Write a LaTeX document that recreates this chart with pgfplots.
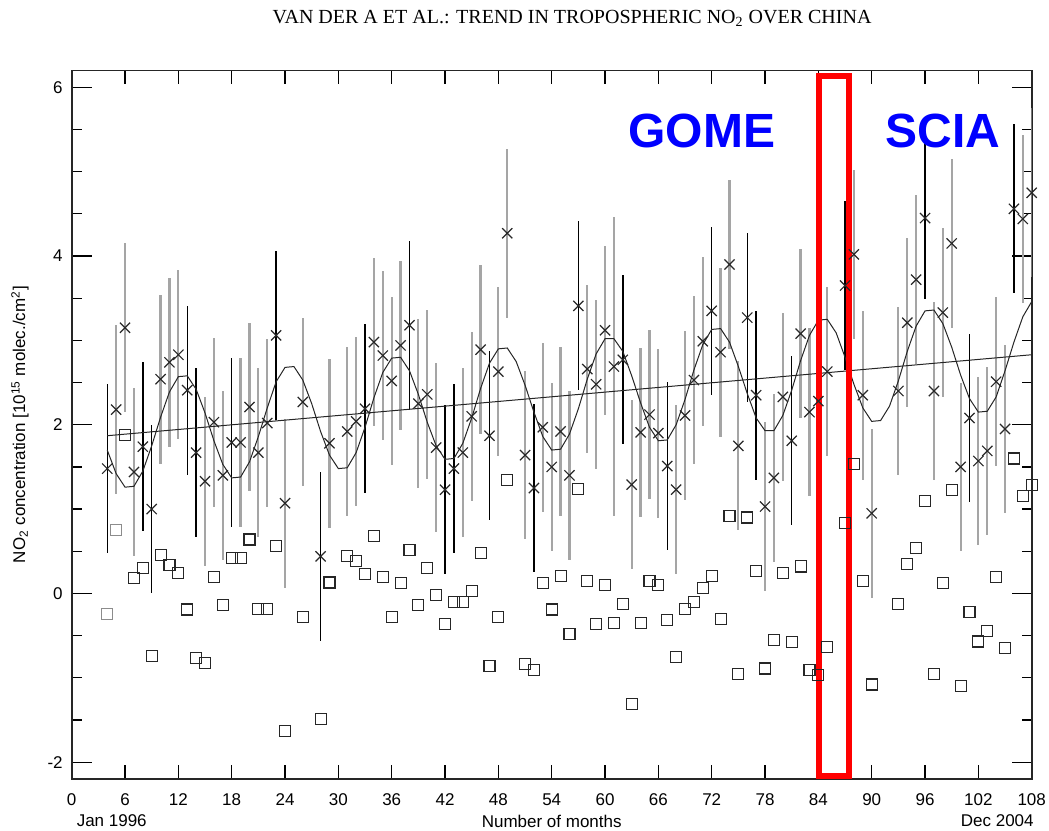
\documentclass[border=0pt]{standalone}
\usepackage{pgfplots}
\pgfplotsset{compat=1.18}
\usepackage{pgfplotstable}
\usepackage{fontspec}
\setmainfont{Liberation Serif}
\newfontfamily\lsans{Liberation Sans}
\definecolor{bargray}{RGB}{165,165,165}
\definecolor{markgray}{RGB}{40,40,40}
\definecolor{pureblue}{RGB}{0,0,255}
\definecolor{purered}{RGB}{255,0,0}

\pgfplotstableread{
m v e
4 1.48 1.0
8 1.74 1.0
9 1.00 1.0
13 2.41 1.0
14 1.67 1.0
18 1.79 1.0
23 3.06 1.0
28 0.44 1.0
33 2.19 1.0
38 3.18 1.0
42 1.23 1.0
43 1.48 1.0
47 1.87 1.0
52 1.25 1.0
57 3.41 1.0
62 2.77 1.0
67 1.51 1.0
72 3.35 1.0
76 3.27 1.0
77 2.35 1.0
81 1.81 1.0
87 3.65 1.0
96 4.45 0.96
101 2.08 1.0
106 4.56 1.0
}\blackbars

\pgfplotstableread{
m v e
5 2.18 1.0
6 3.15 1.0
7 1.44 1.0
10 2.54 1.0
11 2.74 1.0
12 2.83 1.0
15 1.33 1.0
16 2.03 1.0
17 1.40 1.0
19 1.79 1.0
20 2.21 1.0
21 1.67 1.0
22 2.02 1.0
24 1.07 1.0
26 2.27 1.0
29 1.78 1.0
31 1.92 1.0
32 2.04 1.0
34 2.98 1.0
35 2.82 1.0
36 2.52 1.0
37 2.94 1.0
39 2.25 1.0
40 2.36 1.0
41 1.73 1.0
44 1.67 1.0
45 2.10 1.0
46 2.89 1.0
48 2.63 1.0
49 4.27 1.0
51 1.64 1.0
53 1.97 1.0
54 1.50 1.0
55 1.92 1.0
56 1.40 1.0
58 2.66 1.0
59 2.48 1.0
60 3.12 1.0
61 2.69 1.77
63 1.29 1.0
64 1.91 1.0
65 2.12 1.0
66 1.90 1.0
68 1.23 1.0
69 2.11 1.0
70 2.53 1.0
71 2.99 1.0
73 2.86 1.0
74 3.90 1.0
75 1.75 1.0
78 1.03 1.0
79 1.37 1.0
80 2.33 1.0
82 3.08 1.0
83 2.15 1.0
84 2.28 1.0
85 2.63 1.0
88 4.02 1.0
89 2.35 1.0
90 0.95 1.0
93 2.40 1.0
94 3.21 1.0
95 3.72 1.0
97 2.40 1.06
98 3.33 1.0
99 4.15 1.0
100 1.50 1.0
102 1.57 1.0
103 1.69 1.0
104 2.51 1.0
105 1.95 1.0
107 4.44 1.0
108 4.75 1.0
}\graybars

\pgfplotstableread{
m v
6 1.88
7 0.18
8 0.30
9 -0.74
10 0.46
11 0.34
12 0.24
13 -0.19
14 -0.77
15 -0.82
16 0.20
17 -0.14
18 0.42
19 0.42
20 0.64
21 -0.18
22 -0.18
23 0.56
24 -1.63
26 -0.28
28 -1.49
29 0.13
31 0.44
32 0.38
33 0.23
34 0.68
35 0.20
36 -0.28
37 0.12
38 0.52
39 -0.14
40 0.30
41 -0.02
42 -0.36
43 -0.10
44 -0.10
45 0.03
46 0.48
47 -0.86
48 -0.28
49 1.35
51 -0.84
52 -0.91
53 0.12
54 -0.19
55 0.21
56 -0.48
57 1.24
58 0.15
59 -0.36
60 0.10
61 -0.35
62 -0.12
63 -1.31
64 -0.35
65 0.15
66 0.10
67 -0.31
68 -0.75
69 -0.18
70 -0.10
71 0.06
72 0.21
73 -0.30
74 0.92
75 -0.96
76 0.90
77 0.27
78 -0.89
79 -0.55
80 0.24
81 -0.58
82 0.32
83 -0.91
84 -0.97
85 -0.64
87 0.83
88 1.53
89 0.15
90 -1.08
93 -0.12
94 0.35
95 0.54
96 1.10
97 -0.96
98 0.12
99 1.23
100 -1.10
101 -0.22
102 -0.57
103 -0.45
104 0.20
105 -0.65
106 1.60
107 1.15
108 1.29
}\squares

\pgfplotstableread{
m v
4 -0.24
5 0.75
}\graysquares

\pgfplotstableread{
m v
4 1.70
5 1.42
6 1.26
7 1.27
8 1.45
9 1.75
10 2.09
11 2.39
12 2.57
13 2.58
14 2.42
15 2.14
16 1.81
17 1.53
18 1.37
19 1.38
20 1.56
21 1.86
22 2.20
23 2.51
24 2.68
25 2.69
26 2.53
27 2.25
28 1.92
29 1.64
30 1.48
31 1.49
32 1.67
33 1.97
34 2.32
35 2.62
36 2.79
37 2.80
38 2.64
39 2.36
40 2.03
41 1.75
42 1.59
43 1.60
44 1.78
45 2.08
46 2.43
47 2.73
48 2.90
49 2.91
50 2.75
51 2.47
52 2.15
53 1.86
54 1.70
55 1.71
56 1.89
57 2.19
58 2.54
59 2.84
60 3.02
61 3.02
62 2.87
63 2.58
64 2.26
65 1.97
66 1.81
67 1.82
68 2.00
69 2.30
70 2.65
71 2.95
72 3.13
73 3.14
74 2.98
75 2.69
76 2.37
77 2.08
78 1.93
79 1.93
80 2.11
81 2.41
82 2.76
83 3.06
84 3.24
85 3.25
86 3.09
87 2.80
88 2.48
89 2.20
90 2.04
91 2.05
92 2.22
93 2.52
94 2.87
95 3.17
96 3.35
97 3.36
98 3.20
99 2.92
100 2.59
101 2.31
102 2.15
103 2.16
104 2.33
105 2.64
106 2.98
107 3.28
108 3.46
}\fitcurve

\begin{document}
\begin{tikzpicture}
\begin{axis}[
  at={(0,0)}, anchor=south west,
  scale only axis, width=480pt, height=354.25pt,
  xmin=0, xmax=108, ymin=-2.2, ymax=6.2,
  xtick={0,6,...,108},
  ytick={-2,0,2,4,6},
  minor ytick={-1.5,-1,-0.5,0.5,1,1.5,2.5,3,3.5,4.5,5,5.5},
  tick align=inside,
  major tick length=10pt, minor tick length=5pt,
  xtick style={/pgfplots/major tick length=7pt},
  tick style={black, line width=0.6pt},
  axis line style={line width=0.9pt, black!85},
  ticklabel style={font=\lsans\fontsize{8.5}{10}\selectfont},
  /pgf/number format/assume math mode=true,
  xticklabel style={yshift=-4pt},
  yticklabel style={xshift=-1pt},
  xlabel={Number of months},
  xlabel style={font=\lsans\fontsize{8.5}{10}\selectfont, at={(axis description cs:0.5,0)}, anchor=center, yshift=-21pt},
  ylabel={NO\textsubscript{2} concentration [10\textsuperscript{15} molec./cm\textsuperscript{2}]},
  ylabel style={font=\lsans\fontsize{8.5}{10}\selectfont, at={(axis description cs:-0.0539,0.5)}, anchor=center},
]
% error bars (no marks, no connecting line)
\addplot[draw=none, mark=none, error bars/.cd, y dir=both, y explicit, error mark=none,
  error bar style={draw=bargray, line width=1.1pt}]
  table[x=m, y=v, y error=e] {\graybars};
\addplot[draw=none, mark=none, error bars/.cd, y dir=both, y explicit, error mark=none,
  error bar style={draw=black, line width=0.7pt}]
  table[x=m, y=v, y error=e] {\blackbars};
% fitted curve and trend
\addplot[black!85, line width=0.5pt] table[x=m, y=v] {\fitcurve};
\addplot[black!85, line width=0.5pt] coordinates {(4,1.87) (108,2.83)};
% crosses
\addplot[only marks, mark=x, mark size=3.6pt, mark options={line width=0.6pt, draw=markgray}]
  table[x=m, y=v] {\graybars};
\addplot[only marks, mark=x, mark size=3.6pt, mark options={line width=0.6pt, draw=markgray}]
  table[x=m, y=v] {\blackbars};
% squares
\addplot[only marks, mark=square, mark size=2.75pt, mark options={line width=0.55pt, draw=black!85, fill=none}]
  table[x=m, y=v] {\squares};
\addplot[only marks, mark=square, mark size=2.75pt, mark options={line width=0.55pt, draw=black!45, fill=none}]
  table[x=m, y=v] {\graysquares};
% annotations
\draw[purered, line width=3pt] (axis cs:84.07,-2.17) rectangle (axis cs:87.44,6.14);
\node[font=\lsans\bfseries\fontsize{24}{28}\selectfont, text=pureblue] at (axis cs:70.9,5.48) {GOME};
\node[font=\lsans\bfseries\fontsize{24}{28}\selectfont, text=pureblue] at (axis cs:98.0,5.48) {SCIA};
\end{axis}
\node[font=\lsans\fontsize{8.5}{10}\selectfont, anchor=west] at (-1pt,-21pt) {Jan 1996};
\node[font=\lsans\fontsize{8.5}{10}\selectfont, anchor=east] at (484.5pt,-21pt) {Dec 2004};
\node[font=\fontsize{10}{12}\selectfont] at (250.2pt,380.5pt) {VAN DER A ET AL.: TREND IN TROPOSPHERIC NO\textsubscript{2} OVER CHINA};
\pgfresetboundingbox
\useasboundingbox (-35.85pt,-25.5pt) rectangle (488.65pt,389.5pt);
\end{tikzpicture}
\end{document}
